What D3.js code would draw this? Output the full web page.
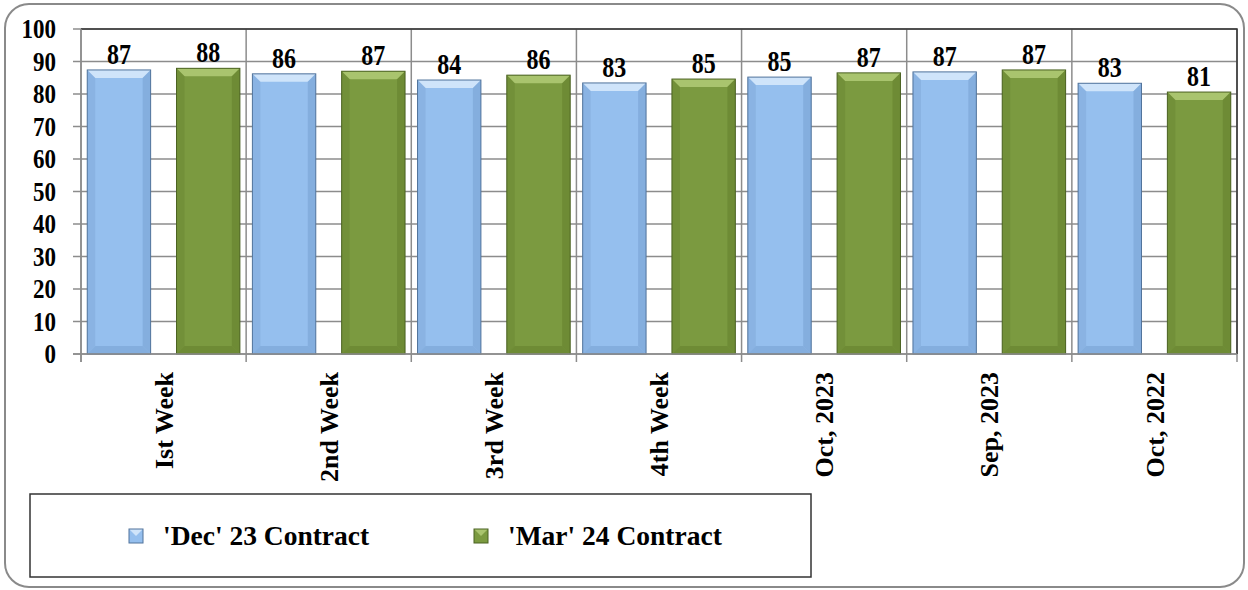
<!DOCTYPE html>
<html>
<head>
<meta charset="utf-8">
<script src="https://cdn.jsdelivr.net/npm/d3@7"></script>
<style>
	body { margin: 0; background: #fff; }
	svg { display: block; font-family: 'Liberation Serif', 'Times New Roman', serif; }
</style>
</head>
<body>
<div id="chart"></div>
<script>

// categories and series
const categories = ['Ist Week', '2nd Week', '3rd Week', '4th Week', 'Oct, 2023', 'Sep, 2023', 'Oct, 2022']
const seriesNames = ["'Dec' 23 Contract", "'Mar' 24 Contract"]
const decValues = [87.4, 86.2, 84.3, 83.4, 85.2, 86.8, 83.3]
const marValues = [87.9, 87.0, 85.8, 84.6, 86.5, 87.4, 80.6]
const yTicks = [0, 10, 20, 30, 40, 50, 60, 70, 80, 90, 100]

const width = 1248
	, height = 590
	, plot = { left: 81, right: 1237, top: 29, bottom: 354 }
	, stretch = 1.2
	, colors = [
		{ base: '#95bfee', light: '#cfe4fa', dark: '#7aa3d3', edge: '#51739b' },
		{ base: '#7b9a40', light: '#a9c46e', dark: '#66822f', edge: '#4b6222' }
	]

const svg = d3.select('#chart').append('svg')
	.attr('width', width)
	.attr('height', height)

// outer frame
svg.append('rect')
	.attr('x', 5).attr('y', 4)
	.attr('width', 1239).attr('height', 583)
	.attr('rx', 24).attr('ry', 24)
	.attr('fill', '#fff')
	.attr('stroke', '#8a8a8a')
	.attr('stroke-width', 2)

const x0 = d3.scaleBand()
	.domain(categories)
	.range([plot.left, plot.right])

const x1 = d3.scaleBand()
	.domain([0, 1])
	.range([0, x0.bandwidth()])
	.paddingInner(0.29)
	.paddingOuter(0.07)

const y = d3.scaleLinear()
	.domain([0, 100])
	.range([plot.bottom, plot.top])

// horizontal gridlines
svg.append('g')
	.selectAll('line')
	.data(yTicks)
	.join('line')
	  .attr('x1', plot.left - 8)
	  .attr('x2', plot.right)
	  .attr('y1', d => y(d))
	  .attr('y2', d => y(d))
	  .attr('stroke', '#8c8c8c')
	  .attr('stroke-width', 1.5)

// vertical gridlines at category boundaries
const bounds = categories.map(c => x0(c)).concat([plot.right])
svg.append('g')
	.selectAll('line')
	.data(bounds)
	.join('line')
	  .attr('x1', d => d)
	  .attr('x2', d => d)
	  .attr('y1', plot.top)
	  .attr('y2', plot.bottom + 8)
	  .attr('stroke', '#8c8c8c')
	  .attr('stroke-width', 1.5)

// plot border top & right
svg.append('path')
	.attr('d', 'M' + plot.left + ',' + plot.top + 'H' + plot.right + 'V' + plot.bottom)
	.attr('fill', 'none')
	.attr('stroke', '#333')
	.attr('stroke-width', 1.5)

// y tick labels (the source font is a bit taller than wide)
svg.append('g')
	.selectAll('text')
	.data(yTicks)
	.join('text')
	  .attr('transform', d => 'translate(56,' + y(d) + ') scale(1,' + stretch + ')')
	  .attr('dy', '0.34em')
	  .attr('text-anchor', 'end')
	  .attr('font-size', 23)
	  .attr('font-weight', 'bold')
	  .text(d => d)

// bars with bevel
function drawBar(g, bx, by, bw, bh, c) {
	const b = 8
	g.append('rect')
		.attr('x', bx).attr('y', by)
		.attr('width', bw).attr('height', bh)
		.attr('fill', c.base)
	// top bevel
	g.append('path')
		.attr('d', 'M' + bx + ',' + by + 'H' + (bx + bw) + 'L' + (bx + bw - b) + ',' + (by + b) + 'H' + (bx + b) + 'Z')
		.attr('fill', c.light)
	// side bevels
	g.append('path')
		.attr('d', 'M' + bx + ',' + by + 'L' + (bx + b) + ',' + (by + b) + 'V' + (by + bh - b) + 'L' + bx + ',' + (by + bh) + 'Z')
		.attr('fill', c.dark).attr('opacity', 0.4)
	g.append('path')
		.attr('d', 'M' + (bx + bw) + ',' + by + 'L' + (bx + bw - b) + ',' + (by + b) + 'V' + (by + bh - b) + 'L' + (bx + bw) + ',' + (by + bh) + 'Z')
		.attr('fill', c.dark).attr('opacity', 0.6)
	// bottom bevel
	g.append('path')
		.attr('d', 'M' + bx + ',' + (by + bh) + 'L' + (bx + b) + ',' + (by + bh - b) + 'H' + (bx + bw - b) + 'L' + (bx + bw) + ',' + (by + bh) + 'Z')
		.attr('fill', c.dark).attr('opacity', 0.6)
	g.append('rect')
		.attr('x', bx).attr('y', by)
		.attr('width', bw).attr('height', bh)
		.attr('fill', 'none')
		.attr('stroke', c.edge)
		.attr('stroke-width', 1)
}

const series = [decValues, marValues]
const barsG = svg.append('g')
series.forEach((vals, s) => {
	vals.forEach((v, i) => {
		const bx = x0(categories[i]) + x1(s)
		drawBar(barsG, bx, y(v), x1.bandwidth(), plot.bottom - y(v), colors[s])
		barsG.append('text')
			.attr('transform', 'translate(' + (bx + x1.bandwidth() / 2) + ',' + (y(v) - 6) + ') scale(1,' + stretch + ')')
			.attr('text-anchor', 'middle')
			.attr('font-size', 24)
			.attr('font-weight', 'bold')
			.text(d3.format('.0f')(v))
	})
})

// axes lines over bars
svg.append('line')
	.attr('x1', plot.left).attr('x2', plot.left)
	.attr('y1', plot.top).attr('y2', plot.bottom + 8)
	.attr('stroke', '#8c8c8c').attr('stroke-width', 1.5)
svg.append('line')
	.attr('x1', plot.left - 8).attr('x2', plot.right)
	.attr('y1', plot.bottom).attr('y2', plot.bottom)
	.attr('stroke', '#8c8c8c').attr('stroke-width', 1.5)

// x category labels, rotated
svg.append('g')
	.selectAll('text')
	.data(categories)
	.join('text')
	  .attr('transform', d => 'translate(' + (x0(d) + x0.bandwidth() / 2) + ',372) rotate(-90)')
	  .attr('dy', '0.35em')
	  .attr('text-anchor', 'end')
	  .attr('font-size', 26)
	  .attr('font-weight', 'bold')
	  .text(d => d)

// legend
svg.append('rect')
	.attr('x', 30).attr('y', 494)
	.attr('width', 781).attr('height', 83)
	.attr('fill', '#fff')
	.attr('stroke', '#333')
	.attr('stroke-width', 1.5)

const legendX = [129, 474]
seriesNames.forEach((name, s) => {
	const g = svg.append('g')
	drawLegendMarker(g, legendX[s], 529, 14, colors[s])
	g.append('text')
		.attr('x', legendX[s] + 34)
		.attr('y', 545)
		.attr('font-size', 27.5)
		.attr('font-weight', 'bold')
		.text(name)
})

function drawLegendMarker(g, mx, my, size, c) {
	g.append('rect').attr('x', mx).attr('y', my).attr('width', size).attr('height', size).attr('fill', c.base)
	g.append('path')
		.attr('d', 'M' + mx + ',' + my + 'H' + (mx + size) + 'L' + (mx + size / 2) + ',' + (my + size / 2) + 'Z')
		.attr('fill', c.light)
	g.append('rect').attr('x', mx).attr('y', my).attr('width', size).attr('height', size)
		.attr('fill', 'none').attr('stroke', c.edge).attr('stroke-width', 1)
}

</script>
</body>
</html>
